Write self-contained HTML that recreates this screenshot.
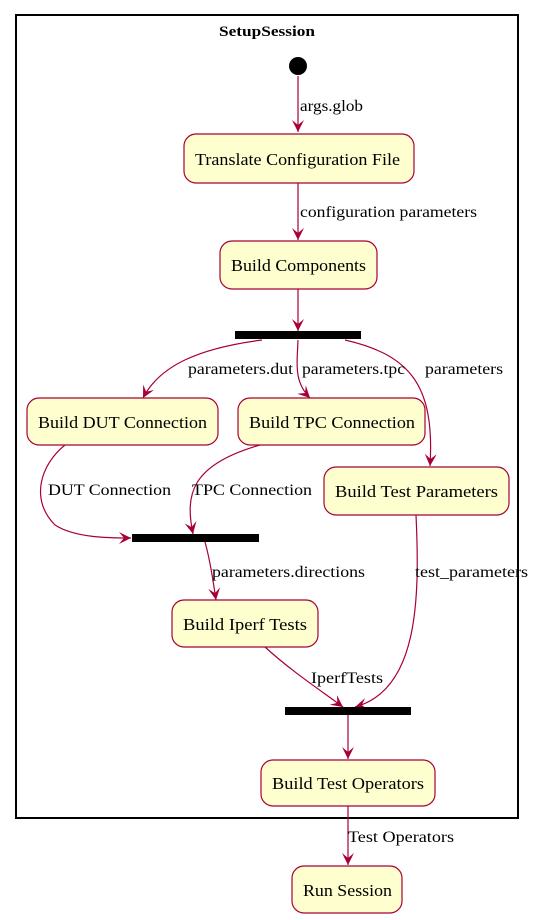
<!DOCTYPE html>
<html><head><meta charset="utf-8"><style>body{margin:0;background:#fff}svg{display:block}</style></head>
<body>
<svg width="536" height="920" viewBox="0 0 536 920" xmlns="http://www.w3.org/2000/svg" font-family="'Liberation Serif','DejaVu Serif',serif" font-size="16">
<defs>
<marker id="a" markerWidth="14" markerHeight="12" refX="12" refY="6" orient="auto" markerUnits="userSpaceOnUse">
<path d="M0,0 L12,6 L0,12 L5,6 z" fill="#A80036"/>
</marker>
</defs>
<rect x="16" y="15" width="502" height="803" fill="none" stroke="#000" stroke-width="2"/>
<text x="219" y="36" font-weight="bold" font-size="15" textLength="96" lengthAdjust="spacingAndGlyphs">SetupSession</text>
<circle cx="298" cy="66" r="9" fill="#000"/>
<g fill="none" stroke="#A80036" stroke-width="1.2" marker-end="url(#a)">
<path d="M298,76 L298,132"/>
<path d="M298,183 L298,240"/>
<path d="M298,289 L298,331"/>
<path d="M262,340 C200,348 160,365 143,398"/>
<path d="M298,340 C297,365 294,382 310,398"/>
<path d="M345,340 C410,355 435,385 430,466"/>
<path d="M65,445 C40,465 30,500 55,525 C75,538 110,538 131,538"/>
<path d="M260,445 C190,465 185,495 193,534"/>
<path d="M205,542 C210,560 213,580 216,600"/>
<path d="M265,647 C290,670 320,690 343,707"/>
<path d="M416,515 C420,600 418,690 355,707"/>
<path d="M348,715 L348,759"/>
<path d="M348,806 L348,865"/>
</g>
<g fill="#000">
<rect x="235" y="331" width="126" height="8"/>
<rect x="132" y="534" width="127" height="8"/>
<rect x="285" y="707" width="126" height="8"/>
</g>
<g fill="#FEFECE" stroke="#A80036" stroke-width="1.2">
<rect x="184" y="134" width="230" height="49" rx="12"/>
<rect x="220" y="241" width="157" height="48" rx="12"/>
<rect x="27" y="398" width="191" height="47" rx="12"/>
<rect x="238" y="398" width="187" height="47" rx="12"/>
<rect x="324" y="467" width="185" height="48" rx="12"/>
<rect x="172" y="600" width="146" height="47" rx="12"/>
<rect x="261" y="760" width="174" height="46" rx="12"/>
<rect x="292" y="866" width="110" height="47" rx="12"/>
</g>
<g font-size="17">
<text x="195" y="165" textLength="205" lengthAdjust="spacingAndGlyphs">Translate Configuration File</text>
<text x="231" y="271" textLength="135" lengthAdjust="spacingAndGlyphs">Build Components</text>
<text x="38" y="428" textLength="169" lengthAdjust="spacingAndGlyphs">Build DUT Connection</text>
<text x="249" y="428" textLength="166" lengthAdjust="spacingAndGlyphs">Build TPC Connection</text>
<text x="335" y="497" textLength="163" lengthAdjust="spacingAndGlyphs">Build Test Parameters</text>
<text x="183" y="630" textLength="124" lengthAdjust="spacingAndGlyphs">Build Iperf Tests</text>
<text x="272" y="789" textLength="152" lengthAdjust="spacingAndGlyphs">Build Test Operators</text>
<text x="303" y="896" textLength="89" lengthAdjust="spacingAndGlyphs">Run Session</text>
</g>
<g>
<text x="300" y="111" textLength="63" lengthAdjust="spacingAndGlyphs">args.glob</text>
<text x="300" y="217" textLength="177" lengthAdjust="spacingAndGlyphs">configuration parameters</text>
<text x="188" y="374" textLength="105" lengthAdjust="spacingAndGlyphs">parameters.dut</text>
<text x="302" y="374" textLength="103" lengthAdjust="spacingAndGlyphs">parameters.tpc</text>
<text x="425" y="374" textLength="78" lengthAdjust="spacingAndGlyphs">parameters</text>
<text x="48" y="495" textLength="123" lengthAdjust="spacingAndGlyphs">DUT Connection</text>
<text x="192" y="495" textLength="120" lengthAdjust="spacingAndGlyphs">TPC Connection</text>
<text x="212" y="577" textLength="153" lengthAdjust="spacingAndGlyphs">parameters.directions</text>
<text x="415" y="577" textLength="113" lengthAdjust="spacingAndGlyphs">test_parameters</text>
<text x="311" y="683" textLength="72" lengthAdjust="spacingAndGlyphs">IperfTests</text>
<text x="348" y="842" textLength="106" lengthAdjust="spacingAndGlyphs">Test Operators</text>
</g>
</svg>
</body></html>
